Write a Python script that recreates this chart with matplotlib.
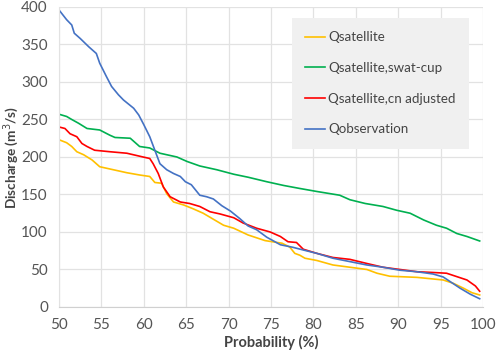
import matplotlib
matplotlib.use("Agg")
import matplotlib.pyplot as plt

# flow duration curves
obs_p = [50, 50.9, 51.5, 51.8, 52.5, 53.5, 54.4, 54.8, 55.6, 56.2, 57, 57.6, 58.8, 59.4, 60,
         60.7, 61.3, 61.9, 62.7, 63.5, 64.3, 64.9, 65.6, 66.6, 67.4, 68.2, 69.2, 70.2, 71.3,
         72.3, 73.3, 74.5, 76.1, 77.6, 78.8, 80.4, 82.3, 84.3, 86.3, 88.2, 90.2, 92.2, 94.1,
         95.3, 96.1, 97.3, 98.5, 99.6]
obs_q = [396, 383, 376, 365, 358, 347, 338, 325, 307, 294, 283, 276, 265, 256, 243,
         227, 209, 191, 183, 178, 174, 167, 163, 149, 147, 144, 135, 128, 118,
         108, 103, 93, 83, 79.5, 76, 71.5, 65, 60.5, 56, 53, 49, 47, 44,
         40, 34, 25, 17, 11]

cn_p = [50, 50.7, 51.3, 52.1, 52.7, 53.3, 54.2, 56, 58, 59.9, 60.7, 61.1, 61.7, 62.3, 63.1,
        64.3, 65.4, 66.6, 67.8, 69, 70.6, 71.7, 73.3, 74.9, 76.1, 77, 78, 78.8, 80.4,
        82.3, 84.3, 86.3, 88.2, 90.2, 92.2, 94.1, 95.7, 96.9, 98.1, 99.1, 99.6]
cn_q = [240, 238, 231, 227, 218, 214, 209, 207, 205, 200, 198, 191, 178, 160, 147,
        140, 138, 134, 127, 124, 119, 112, 105, 100, 94, 87, 86, 77, 71.5,
        66, 63.5, 58, 53, 50, 47, 46, 45, 40.5, 36, 28, 21]

sat_p = [50, 50.9, 51.5, 52.1, 52.9, 53.9, 54.8, 56.4, 58, 59.5, 60.7, 61.3, 62.1, 62.7,
         63.5, 64.7, 65.8, 67, 68.2, 69.4, 70.6, 72.3, 74.3, 76.3, 77.2, 77.8, 78.4, 79,
         80.4, 82.3, 84.3, 86.3, 87.5, 89, 92.2, 95.3, 96.5, 97.7, 98.7, 99.6]
sat_q = [223, 219, 214, 207, 203, 196, 187, 183, 179, 176, 174, 166, 165, 151,
         140, 136, 131, 125, 117, 109, 105, 96, 88.5, 85, 80, 71.5, 69, 65,
         62, 56, 53, 50, 45, 41, 39.5, 36, 31.5, 25, 19, 16]

swat_p = [50, 50.9, 51.5, 52.3, 53.3, 54.8, 56, 56.6, 58.4, 59.5, 60.7, 61.9, 63.9, 65.1,
          66.6, 68.6, 70.6, 72.3, 74.5, 76.5, 78.4, 80.4, 83.1, 84.3, 86.1, 88.2, 89.8,
          91.4, 93, 94.5, 95.7, 96.9, 98.1, 99.6]
swat_q = [257, 254, 250, 245, 238, 236, 229, 226, 225, 214, 212, 205, 200, 194,
          188, 183, 177, 173, 167, 162, 158, 154, 149, 143, 138, 134, 129,
          125, 116, 109, 105, 98, 94, 88]

plt.rcParams['font.family'] = ['Lato', 'DejaVu Sans']
txt = '#444444'

fig = plt.figure(figsize=(4.98, 3.54), dpi=100)
ax = fig.add_axes([0.1185, 0.1328, 0.8515, 0.8475])

ax.plot(sat_p, sat_q, color='#FFC000', lw=1.2, label='Qsatellite')
ax.plot(swat_p, swat_q, color='#00B050', lw=1.2, label='Qsatellite,swat-cup')
ax.plot(cn_p, cn_q, color='#FF0000', lw=1.2, label='Qsatellite,cn adjusted')
ax.plot(obs_p, obs_q, color='#4472C4', lw=1.2, label='Qobservation')

ax.set_xlim(50, 100)
ax.set_ylim(0, 400)
ax.set_xticks(range(50, 101, 5))
ax.set_yticks(range(0, 401, 50))
ax.grid(True, color='#e2e2e2', lw=0.9)
ax.set_axisbelow(True)
for s in ['top', 'right']:
    ax.spines[s].set_visible(False)
ax.spines['left'].set_color('#e2e2e2')
ax.spines['bottom'].set_color('#d0d0d0')
ax.tick_params(length=0, labelsize=11, colors='#555555')
ax.tick_params(axis='x', pad=8)
ax.tick_params(axis='y', pad=8)

ax.set_xlabel('Probability (%)', fontsize=10.5, color=txt, fontweight='bold', labelpad=2)
ax.set_ylabel('Discharge (m$^3$/s)', fontsize=9.8, color=txt, fontweight='bold')
ax.yaxis.set_label_coords(-0.09, 0.5)

leg = ax.legend(loc='upper left', bbox_to_anchor=(0.5495, 0.963), fontsize=9.6,
                handlelength=1.5, handletextpad=0.2, labelspacing=1.4,
                borderpad=1.0, borderaxespad=0, fancybox=False,
                facecolor='#f0f0f0', edgecolor='none', framealpha=1)
for t in leg.get_texts():
    t.set_color(txt)

fig.savefig('out.png', dpi=100)
